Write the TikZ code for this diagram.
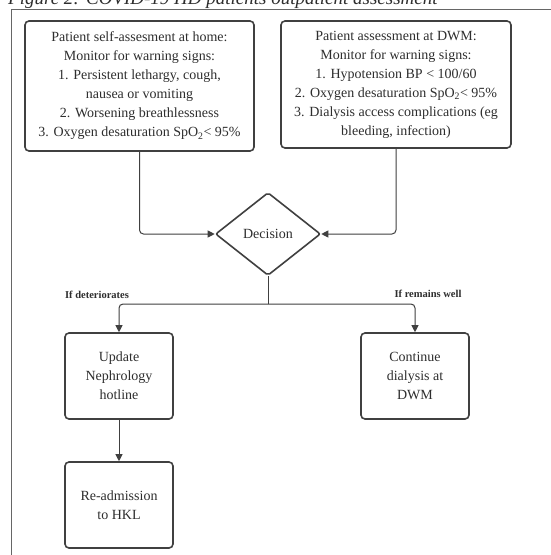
\documentclass[tikz,border=0pt]{standalone}
\usepackage{fontspec}
\setmainfont{Liberation Serif}
\usetikzlibrary{shapes.geometric,arrows.meta}
\definecolor{ln}{HTML}{404040}
\definecolor{tx}{HTML}{2E2E2E}
\tikzset{
  box/.style={draw=ln, line width=1.6pt, rounded corners=4pt, align=center, text=tx, font=\fontsize{14}{19}\selectfont, inner sep=0pt},
  conn/.style={draw=ln, line width=1pt, rounded corners=4pt, -{Triangle[length=7pt,width=7pt]}},
  lbl/.style={font=\fontsize{10.5}{12}\selectfont\bfseries, text=tx, inner sep=0pt}
}
\begin{document}
\begin{tikzpicture}[x=1pt,y=-1pt]
\useasboundingbox (0,0) rectangle (551,555);
\clip (0,0) rectangle (551,555);
\fill[white] (0,0) rectangle (551,555);
\node[anchor=base west, font=\fontsize{19}{21}\selectfont\itshape, text=tx, inner sep=0pt] (title) at (8,4.5) {Figure 2: COVID-19 HD patients outpatient assessment};
\draw[draw=ln!80, line width=0.9pt] (11,560) -- (11,9.5) -- (560,9.5);
\node[box, minimum width=229pt, minimum height=130pt] (lb) at (139.5,86) {Patient self-assesment at home:\\Monitor for warning signs:\\1. Persistent lethargy, cough,\\nausea or vomiting\\2. Worsening breathlessness\\3. Oxygen desaturation SpO\textsubscript{2}< 95\%};
\node[box, minimum width=230pt, minimum height=127pt] (rb) at (396,84.5) {Patient assessment at DWM:\\Monitor for warning signs:\\1. Hypotension BP < 100/60\\2. Oxygen desaturation SpO\textsubscript{2}< 95\%\\3. Dialysis access complications (eg\\bleeding, infection)\vphantom{g}};
\node[box, diamond, aspect=1.27, minimum width=105pt, minimum height=83pt, rounded corners=2pt] (dec) at (268,234) {Decision};
\node[box, minimum width=108pt, minimum height=86pt] (upd) at (119,376) {Update\\Nephrology\\hotline};
\node[box, minimum width=108pt, minimum height=86pt] (cont) at (415,376) {Continue\\dialysis at\\DWM};
\node[box, minimum width=108pt, minimum height=86pt] (readm) at (119,505) {Re-admission\\to HKL};
\coordinate (sp) at (268,304);
\draw[conn] (lb.south) |- (dec.west);
\draw[conn] (rb.south) |- (dec.east);
\draw[draw=ln, line width=1pt] (dec.south) -- (sp);
\draw[conn] (sp) -| (upd.north);
\draw[conn] (sp) -| (cont.north);
\draw[conn, rounded corners=0pt] (upd.south) -- (readm.north);
\node[lbl, anchor=base] (l1) at (97,298) {If deteriorates};
\node[lbl, anchor=base] (l2) at (428,297) {If remains well};
\end{tikzpicture}
\end{document}
